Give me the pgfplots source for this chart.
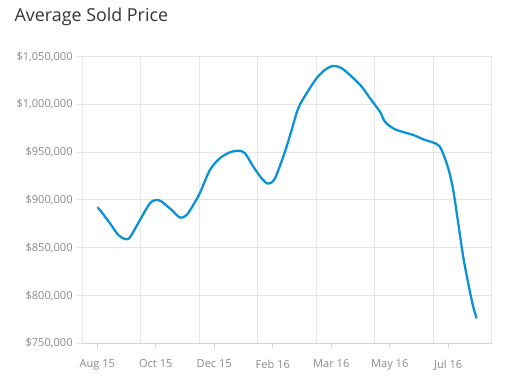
\documentclass[border=0pt]{standalone}
\usepackage{pgfplots}
\pgfplotsset{compat=1.18}
\usepackage{fontspec}
\setmainfont{Open Sans}
\definecolor{gridc}{HTML}{E6E6E6}
\definecolor{axc}{HTML}{CCD6EB}
\definecolor{labc}{HTML}{8C8888}
\definecolor{linec}{HTML}{0A92D8}
\definecolor{titc}{HTML}{333333}
\begin{document}
\begin{tikzpicture}
\useasboundingbox (0pt,0pt) rectangle (381pt,287.25pt);
\node[anchor=base west, font=\fontsize{13.4}{16}\selectfont, text=titc, inner sep=0pt] at (10.8pt,270.9pt) {Average Sold Price};
\begin{axis}[
  at={(61.725pt,29.775pt)}, anchor=south west,
  scale only axis, width=307.1pt, height=215pt,
  xmin=-0.256, xmax=6.744, ymin=750000, ymax=1050000,
  axis x line*=bottom, axis y line*=left,
  x axis line style={-, draw=axc, line width=0.75pt},
  y axis line style={-, draw=gridc, line width=0.75pt},
  xtick={0,1,2,3,4,5,6},
  xticklabels={Aug 15,Oct 15,Dec 15,Feb 16,Mar 16,May 16,Jul 16},
  minor xtick={0.744,1.744,2.744,3.744,4.744,5.744,6.744},
  xminorgrids=true, minor tick length=0pt,
  minor grid style={draw=gridc, line width=0.75pt},
  ytick={750000,800000,850000,900000,950000,1000000,1050000},
  yticklabels={{\$750,000},{\$800,000},{\$850,000},{\$900,000},{\$950,000},{\$1,000,000},{\$1,050,000}},
  scaled y ticks=false,
  ymajorgrids=true,
  major grid style={draw=gridc, line width=0.75pt},
  tick align=outside, major tick length=3.75pt,
  xtick style={draw=axc, line width=0.75pt},
  ytick style={draw=gridc, line width=0.75pt},
  tick label style={font=\fontsize{8.3}{10}\selectfont, text=labc},
  xticklabel style={yshift=-5pt},
]
\addplot[linec, line width=1.7pt, smooth, tension=0.5] coordinates {
(0,892400) (0.046,889500) (0.217,875600) (0.359,863400) (0.474,859200)
(0.559,861000) (0.730,879100) (0.901,896600) (1.015,900000) (1.101,898200)
(1.272,889500) (1.414,881500) (1.528,884300) (1.641,894800) (1.756,907500)
(1.926,931400) (2.097,943700) (2.268,949900) (2.410,951600) (2.525,948900)
(2.667,934900) (2.810,922700) (2.923,917100) (3.038,922700) (3.209,950600)
(3.323,973300) (3.436,996000) (3.579,1011700) (3.750,1027400) (3.892,1036100)
(4.034,1040300) (4.178,1037900) (4.349,1029100) (4.520,1018600) (4.662,1006500)
(4.833,992400) (4.918,982000) (5.089,974000) (5.402,968000) (5.573,963500)
(5.802,958600) (5.887,952300) (6.000,933200) (6.085,910500) (6.171,875600)
(6.256,840700) (6.342,812800) (6.427,788300) (6.485,776200)
};
\end{axis}
\end{tikzpicture}
\end{document}
